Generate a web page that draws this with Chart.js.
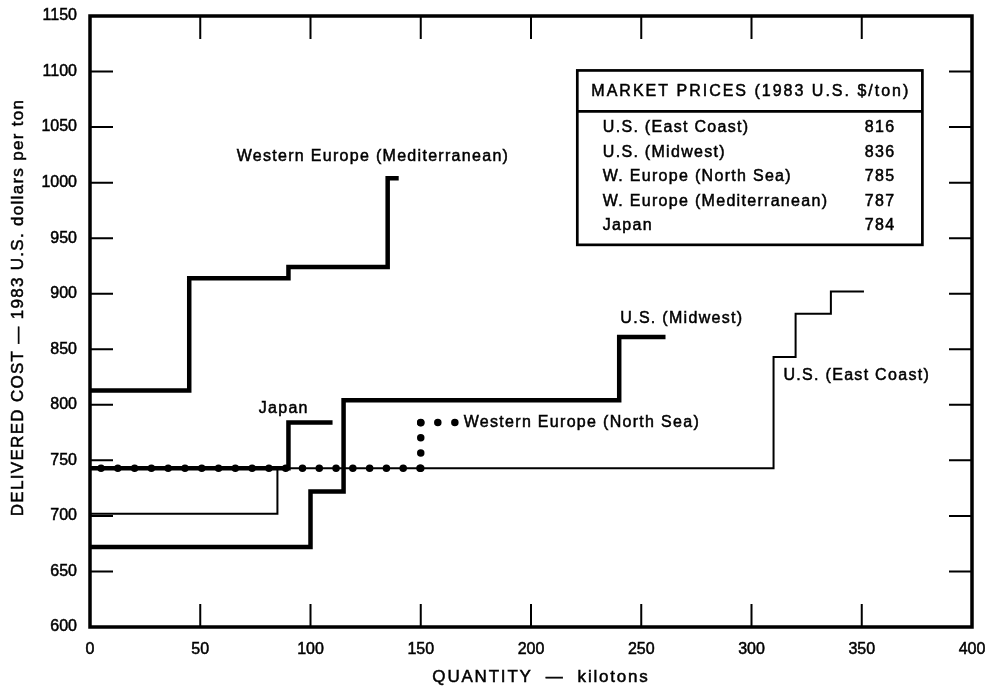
<!DOCTYPE html>
<html>
<head>
<meta charset="utf-8">
<script src="https://cdn.jsdelivr.net/npm/chart.js@4.4.1/dist/chart.umd.min.js"></script>
<style>
  body { margin: 0; background: #fff; }
</style>
</head>
<body>
<canvas id="chart" width="993" height="691"></canvas>
<script>
// axis ticks
const xTicks = [0, 50, 100, 150, 200, 250, 300, 350, 400];
const yTicks = [600, 650, 700, 750, 800, 850, 900, 950, 1000, 1050, 1100, 1150];

// supply curves: quantity where each step starts (kilotons) and delivered cost ($/ton)
const medQty = [0, 45, 90, 135, 140];
const medCost = [813, 914, 924, 1004, 1004];

const japanQty = [0, 90, 110];
const japanCost = [743, 784, 784];

const midwestQty = [0, 100, 115, 240, 261];
const midwestCost = [672, 722, 804, 861, 861];

const eastQty = [0, 85, 310, 320, 336, 351];
const eastCost = [702, 743, 843, 882, 902, 902];

// dotted curve, listed corner by corner
const northSeaQty = [5, 150, 150, 165.5];
const northSeaCost = [743, 743, 784, 784];

// market price box
const marketNames = ["U.S. (East Coast)", "U.S. (Midwest)", "W. Europe (North Sea)", "W. Europe (Mediterranean)", "Japan"];
const marketPrices = [816, 836, 785, 787, 784];

// curve names, anchored (left edge, middle) in data units
const curveLabels = [
  { text: "Western Europe (Mediterranean)", x: 66.5, y: 1023 },
  { text: "Japan", x: 76.5, y: 797 },
  { text: "Western Europe (North Sea)", x: 169.5, y: 784 },
  { text: "U.S. (Midwest)", x: 240.5, y: 877.5 },
  { text: "U.S. (East Coast)", x: 314.5, y: 826.5 }
];

const FONT = "'Liberation Sans', Arial, Helvetica, sans-serif";

function toPoints(qty, cost) {
  return qty.map((q, i) => ({ x: q, y: cost[i] }));
}

// text a little heavier, like the printed original
function inkText(ctx, text, px, py) {
  ctx.fillText(text, px, py);
  ctx.strokeText(text, px, py);
}

// draws the frame, the inward ticks, the axis titles, the curve names and the price box
const paperPlugin = {
  id: 'paper',
  afterDatasetsDraw(chart) {
    const { ctx, chartArea: a, scales: { x, y } } = chart;
    ctx.save();
    ctx.strokeStyle = '#000';
    ctx.fillStyle = '#000';

    // inward tick marks on all four sides
    ctx.lineWidth = 2;
    ctx.beginPath();
    xTicks.slice(1, -1).forEach(v => {
      const px = x.getPixelForValue(v);
      ctx.moveTo(px, a.bottom); ctx.lineTo(px, a.bottom - 23);
      ctx.moveTo(px, a.top); ctx.lineTo(px, a.top + 23);
    });
    yTicks.slice(1, -1).forEach(v => {
      const py = y.getPixelForValue(v);
      ctx.moveTo(a.left, py); ctx.lineTo(a.left + 23, py);
      ctx.moveTo(a.right, py); ctx.lineTo(a.right - 23, py);
    });
    ctx.stroke();

    // frame
    ctx.lineWidth = 3.5;
    ctx.strokeRect(a.left, a.top, a.right - a.left, a.bottom - a.top);

    // price box
    const bl = x.getPixelForValue(221), br = x.getPixelForValue(377.5);
    const bt = y.getPixelForValue(1101), bb = y.getPixelForValue(944);
    ctx.fillStyle = '#fff';
    ctx.fillRect(bl, bt, br - bl, bb - bt);
    ctx.fillStyle = '#000';
    ctx.lineWidth = 2.7;
    ctx.strokeRect(bl, bt, br - bl, bb - bt);
    ctx.beginPath();
    ctx.moveTo(bl, bt + 41); ctx.lineTo(br, bt + 41);
    ctx.stroke();

    // curve names
    ctx.lineWidth = 0.5;
    ctx.font = '16px ' + FONT;
    ctx.letterSpacing = '1.3px';
    ctx.textAlign = 'left';
    ctx.textBaseline = 'middle';
    curveLabels.forEach(l => {
      inkText(ctx, l.text, x.getPixelForValue(l.x), y.getPixelForValue(l.y));
    });

    ctx.letterSpacing = '2px';
    ctx.textAlign = 'center';
    inkText(ctx, "MARKET PRICES (1983 U.S. $/ton)", (bl + br) / 2 + 1, bt + 21);
    ctx.letterSpacing = '1.3px';
    marketNames.forEach((name, i) => {
      const ry = bt + 57.5 + i * 24.5;
      ctx.textAlign = 'left';
      inkText(ctx, name, bl + 25.5, ry);
      ctx.textAlign = 'right';
      inkText(ctx, String(marketPrices[i]), br - 27, ry);
    });

    // axis titles
    ctx.font = '17px ' + FONT;
    ctx.letterSpacing = '1.8px';
    ctx.textAlign = 'center';
    inkText(ctx, "QUANTITY  —  kilotons", (a.left + a.right) / 2 + 10, a.bottom + 50);
    ctx.letterSpacing = '1.3px';
    ctx.translate(18, (a.top + a.bottom) / 2 - 14);
    ctx.rotate(-Math.PI / 2);
    inkText(ctx, "DELIVERED COST — 1983 U.S. dollars per ton", 0, 0);

    ctx.restore();
  }
};

Chart.defaults.font.family = FONT;
Chart.defaults.font.size = 16;
Chart.defaults.color = '#000';

const thick = { borderColor: '#000', borderWidth: 4.5, pointRadius: 0, stepped: true, fill: false, borderJoinStyle: 'miter', order: 1 };

const tickText = { padding: 13, maxRotation: 0, font: { size: 16 }, textStrokeColor: '#000', textStrokeWidth: 0.5, callback: v => String(v) };

// the frame is drawn by the plugin, so the scales must not add overhang padding
function noOverhang(s) {
  s.paddingLeft = 0; s.paddingRight = 0; s.paddingTop = 0; s.paddingBottom = 0;
}

new Chart(document.getElementById('chart'), {
  type: 'line',
  data: {
    datasets: [
      Object.assign({ label: 'Western Europe (Mediterranean)', data: toPoints(medQty, medCost) }, thick),
      Object.assign({ label: 'Japan', data: toPoints(japanQty, japanCost) }, thick),
      Object.assign({ label: 'U.S. (Midwest)', data: toPoints(midwestQty, midwestCost) }, thick),
      Object.assign({}, thick, { label: 'U.S. (East Coast)', data: toPoints(eastQty, eastCost), borderWidth: 2 }),
      {
        label: 'Western Europe (North Sea)',
        data: toPoints(northSeaQty, northSeaCost),
        borderColor: '#000',
        borderWidth: 7.5,
        borderCapStyle: 'round',
        pointRadius: 0,
        fill: false,
        order: 0,
        segment: {
          // one dot pattern per straight run, so every corner gets a dot
          borderDash: c => {
            const len = Math.hypot(c.p1.x - c.p0.x, c.p1.y - c.p0.y);
            const n = Math.max(1, Math.round(len / 16.8));
            return [0.01, len / n - 0.05];
          }
        }
      }
    ]
  },
  options: {
    responsive: false,
    animation: false,
    devicePixelRatio: 1,
    layout: { padding: { top: 16, right: 21, left: 0, bottom: 0 } },
    plugins: { legend: { display: false }, tooltip: { enabled: false } },
    scales: {
      x: {
        type: 'linear',
        min: 0,
        max: 400,
        grid: { display: false, drawTicks: false },
        border: { display: false },
        ticks: tickText,
        afterBuildTicks: s => { s.ticks = xTicks.map(v => ({ value: v })); },
        afterFit: s => { s.height = 64; noOverhang(s); }
      },
      y: {
        type: 'linear',
        min: 600,
        max: 1150,
        grid: { display: false, drawTicks: false },
        border: { display: false },
        ticks: tickText,
        afterBuildTicks: s => { s.ticks = yTicks.map(v => ({ value: v })); },
        afterFit: s => { s.width = 90; noOverhang(s); }
      }
    }
  },
  plugins: [paperPlugin]
});
</script>
</body>
</html>
